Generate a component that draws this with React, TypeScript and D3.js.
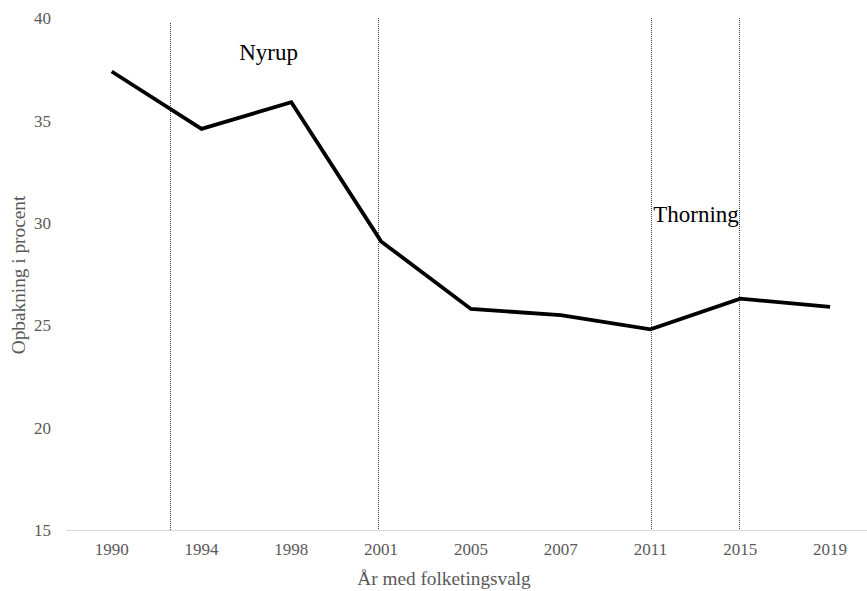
import React from "react";
import * as d3 from "d3";

const years = ["1990", "1994", "1998", "2001", "2005", "2007", "2011", "2015", "2019"];
const support = [37.4, 34.6, 35.9, 29.1, 25.8, 25.5, 24.8, 26.3, 25.9];
const yTicks = [15, 20, 25, 30, 35, 40];
// vertical dotted markers, in category-index units, with top value
const markerPos = [0.65, 2.96, 6.0, 6.98];
const markerTop = [39.75, 40, 40, 40];
const annotations = ["Nyrup", "Thorning"];
const annotationPos = [1.42, 6.03];
const annotationVal = [37.95, 30.05];

const W = 867;
const H = 591;
const FONT = "'Liberation Serif', 'Times New Roman', Times, serif";

export default function App() {
  const x = d3.scaleBand<string>().domain(years).range([66.8, 875]).padding(0);
  const y = d3.scaleLinear().domain([15, 40]).range([530, 18.3]);
  const step = x.step();
  const c0 = (x(years[0]) as number) + x.bandwidth() / 2;
  const xi = (i: number) => c0 + i * step;

  const line = d3
    .line<number>()
    .x((_, i) => xi(i))
    .y((d) => y(d));

  return (
    <svg
      width={W}
      height={H}
      style={{ position: "absolute", left: 0, top: 0, background: "#fff", fontFamily: FONT }}
    >
      {/* axis line */}
      <line x1={66} x2={W} y1={530.5} y2={530.5} stroke="#d9d9d9" strokeWidth={1.2} />
      {/* y tick labels */}
      {yTicks.map((t) => (
        <text key={t} x={51} y={y(t)} dy="0.35em" textAnchor="end" fontSize={17} fill="#595959">
          {t}
        </text>
      ))}
      {/* x tick labels */}
      {years.map((yr, i) => (
        <text key={yr} x={xi(i)} y={555} textAnchor="middle" fontSize={17} fill="#595959">
          {yr}
        </text>
      ))}
      {/* markers */}
      {markerPos.map((p, i) => {
        const px = Math.round(xi(p)) + 0.5;
        return (
          <line
            key={i}
            x1={px}
            x2={px}
            y1={Math.round(y(markerTop[i]))}
            y2={530}
            stroke="#404040"
            strokeWidth={1}
            strokeDasharray="1,1"
          />
        );
      })}
      {/* annotations */}
      {annotations.map((a, i) => (
        <text key={a} x={xi(annotationPos[i])} y={y(annotationVal[i])} fontSize={23} fill="#000">
          {a}
        </text>
      ))}
      {/* data line */}
      <path d={line(support) || ""} fill="none" stroke="#000" strokeWidth={3.8} strokeLinejoin="miter" />
      {/* axis titles */}
      <text x={444} y={585} textAnchor="middle" fontSize={19.3} fill="#595959">
        År med folketingsvalg
      </text>
      <text
        transform={`translate(25,275) rotate(-90)`}
        textAnchor="middle"
        fontSize={19.3}
        fill="#595959"
      >
        Opbakning i procent
      </text>
    </svg>
  );
}
